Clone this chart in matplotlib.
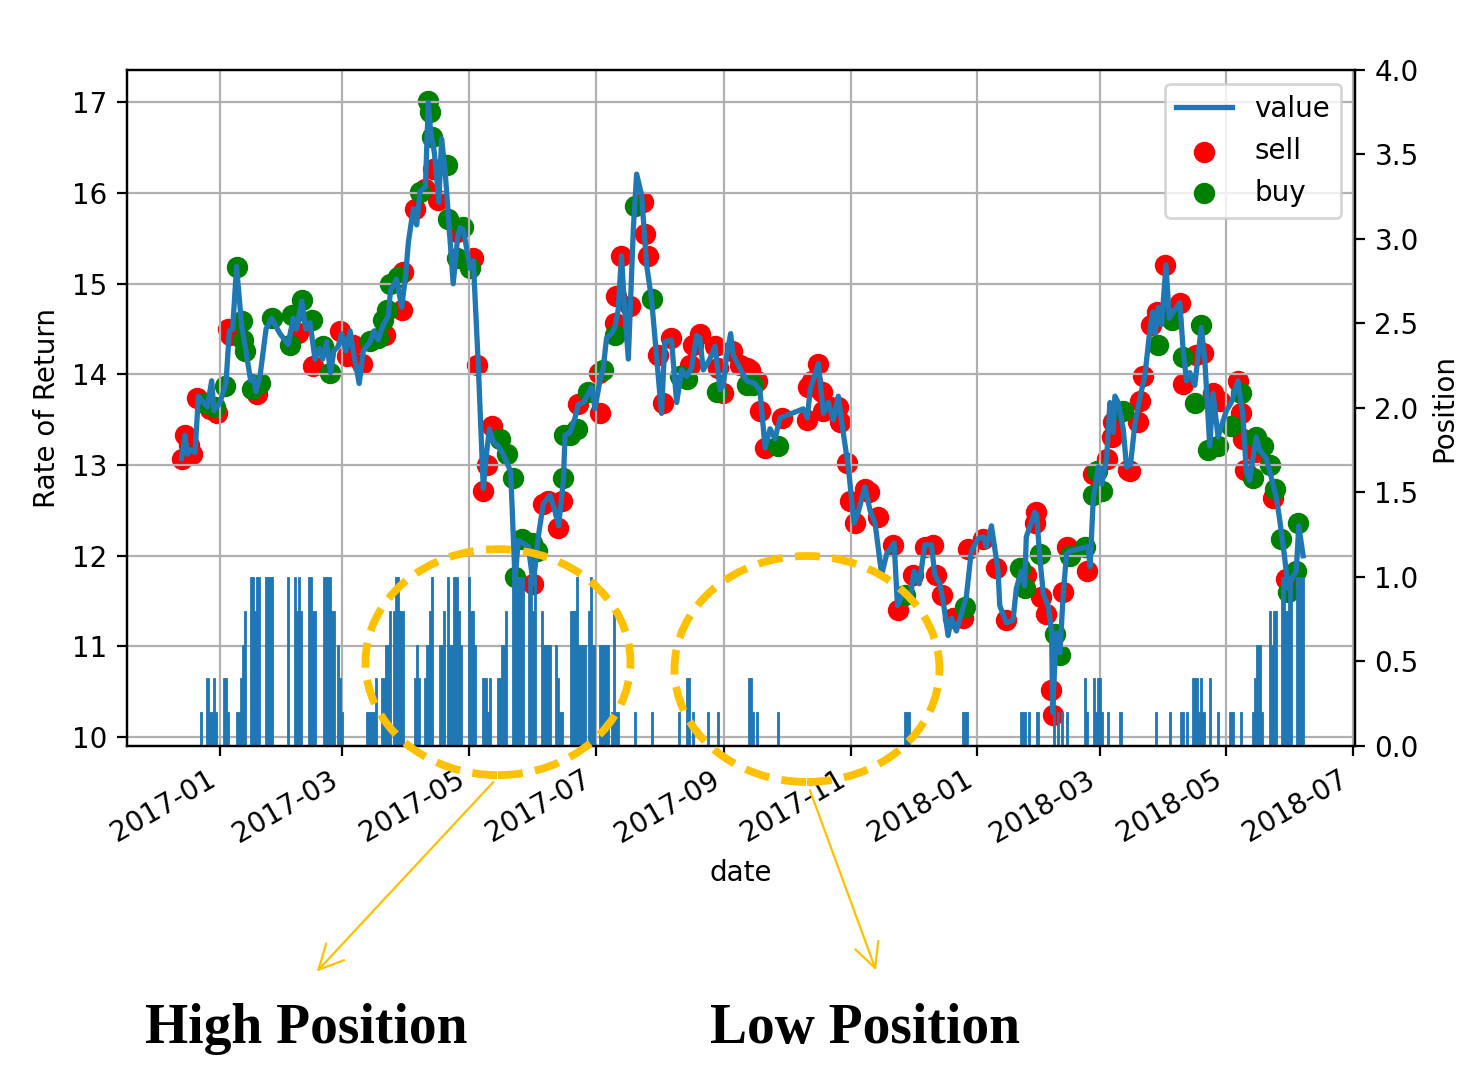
import numpy as np
import pandas as pd
import matplotlib
matplotlib.use("Agg")
from matplotlib import pyplot as plt
import matplotlib.dates as mdates
from matplotlib.patches import Ellipse, FancyArrowPatch

base = pd.Timestamp("2017-01-01")

# day offsets from 2017-01-01 and value of the curve
value_day = [-18.5, -16.9, -15.7, -14.1, -12.0, -10.4, -8.0, -6.1, -4.0, -2.9, 0, 2.9, 4.5, 6.1, 8.0,
             10.4, 12.5, 14.8, 16.1, 17.3, 19.3, 22.2, 24.9, 28.9, 32.9, 35.3, 36.9, 39.4, 41.4, 43.4,
             45.8, 47.9, 49.5, 51.4, 53.3, 54.9, 57.0, 58.6, 60.7, 62.7, 64.6, 67.1, 69.1, 72.3, 74.2,
             76.3, 78.7, 81.1, 82.2, 85.1, 87.6, 89.6, 90.8, 93.2, 94.8, 96.4, 99.0, 100.4, 101.5, 103.3,
             105.5, 106.8, 108.5, 112.4, 114.5, 115.7, 117.3, 120.5, 122.1, 124.5, 126.9, 128.2, 129.8,
             131.7, 134.1, 136.5, 140.1, 142.2, 143.8, 148.6, 151.0, 153.4, 155.8, 157.4, 159.0, 161.1,
             163.2, 165.5, 166.3, 168.7, 171.1, 172.7, 175.1, 177.5, 179.1, 180.7, 183.1, 184.7, 186.3,
             188.7, 190.3, 191.9, 193.5, 195.1, 196.8, 199.2, 200.8, 203.2, 205.6, 208.0, 212.8, 214.4,
             217.6, 220.1, 222.5, 224.9, 227.3, 229.7, 231.3, 232.9, 236.1, 238.6, 241.0, 242.6, 244.2,
             246.1, 247.4, 250.6, 253.8, 257.8, 260.2, 262.7, 265.1, 267.5, 269.9, 275.5, 281.1, 283.1,
             284.4, 288.4, 290.8, 293.2, 295.6, 298.0, 300.1, 302.8, 305.6, 307.6, 310.8, 313.3, 315.7,
             318.9, 321.3, 324.9, 326.5, 329.7, 332.6, 334.5, 337.0, 339.7, 342.9, 344.5, 346.9, 348.5,
             350.9, 352.5, 354.9, 359.7, 362.1, 365.3, 367.8, 369.4, 371.8, 375.0, 375.8, 379.0, 382.2,
             383.8, 386.2, 387.8, 388.6, 391.0, 392.6, 393.6, 395.2, 396.8, 399.2, 400.8, 401.3, 402.4,
             403.2, 404.8, 406.4, 408.0, 409.6, 418.4, 419.3, 420.9, 423.3, 424.9, 427.3, 428.9, 430.5,
             431.3, 432.9, 435.3, 436.9, 438.8, 440.9, 443.3, 445.7, 448.2, 449.5, 450.6, 452.2, 453.8,
             455.9, 457.5, 459.4, 462.6, 464.2, 465.8, 467.4, 469.8, 472.9, 474.6, 477.0, 478.6, 481.0,
             485.0, 487.4, 490.6, 493.0, 494.6, 496.2, 499.4, 501.0, 504.3, 507.5, 509.1, 510.7, 513.1,
             514.7, 516.3, 518.7, 519.9, 522.0]
value = [13.07, 13.33, 13.12, 13.17, 13.14, 13.76, 13.69, 13.64, 13.93, 13.60, 13.69, 13.90, 14.48, 14.50, 15.19,
         14.55, 14.26, 13.93, 13.98, 13.81, 13.98, 14.50, 14.62, 14.45, 14.33, 14.62, 14.50, 14.81, 14.50, 14.57,
         14.17, 14.29, 14.17, 14.36, 14.02, 14.26, 14.31, 14.45, 14.26, 14.48, 14.21, 13.90, 14.26, 14.36, 14.48,
         14.38, 14.55, 14.64, 14.93, 15.05, 14.74, 15.12, 15.46, 15.83, 15.65, 16.02, 16.07, 17.00, 16.69, 16.45,
         15.90, 16.60, 16.25, 15.00, 15.50, 15.62, 15.60, 15.17, 15.25, 14.10, 12.74, 13.07, 13.40,
         13.26, 13.21, 13.12, 12.93, 11.74, 12.17, 12.10, 11.69, 12.21, 12.57, 12.62, 12.67, 12.52,
         12.33, 12.83, 13.33, 13.36, 13.52, 13.67, 13.69, 13.79, 13.86, 13.62, 13.93, 14.07, 14.40,
         14.45, 14.52, 14.71, 15.31, 14.69, 14.17, 15.60, 16.21, 15.98, 15.21, 14.83, 13.57, 14.36,
         14.38, 13.69, 14.05, 13.98, 14.07, 14.43, 14.40, 14.05, 14.17, 14.31, 13.83, 13.88, 14.21,
         14.45, 14.21, 14.07, 13.93, 13.90, 13.83, 13.19, 13.40, 13.29, 13.52, 13.57, 13.62, 13.52,
         13.83, 14.12, 13.57, 13.69, 13.50, 13.76, 13.40, 12.98, 12.36, 12.48, 12.76, 12.50, 12.36,
         11.79, 12.02, 12.14, 11.45, 11.60, 11.52, 11.83, 11.69, 12.12, 12.12, 11.79, 11.69, 11.50,
         11.12, 11.31, 11.17, 11.55, 12.05, 12.19, 12.21, 12.10, 12.33, 11.83, 11.45, 11.26, 11.29,
         11.64, 11.83, 11.67, 12.21, 12.36, 12.48, 12.45, 11.95, 11.58, 11.44, 11.15, 10.27, 10.85,
         11.15, 10.93, 11.58, 12.02, 12.05, 12.10, 11.88, 12.64, 12.98, 12.79, 13.07, 13.69, 13.36,
         13.76, 13.69, 13.40, 12.98, 13.00, 13.45, 13.74, 13.98, 14.50, 14.69, 14.45, 14.74, 14.55,
         15.21, 14.62, 14.69, 14.79, 14.26, 13.93, 14.02, 13.88, 14.52, 14.17, 13.21, 13.79, 13.31,
         13.60, 13.69, 13.93, 13.55, 12.93, 12.83, 13.31, 13.17, 13.07, 12.79, 12.64, 12.40, 11.98,
         11.64, 11.74, 11.83, 12.33, 12.00]

sell_day = [-18.5, -17.0, -15.0, -13.5, -11.2, -4.8, -1.6, 4.0, 4.8, 17.7, 37.7, 45.0, 57.8, 61.0, 64.2,
            68.3, 79.5, 87.6, 88.4, 94.0, 98.8, 102.8, 105.2, 114.1, 122.1, 123.7, 126.9, 128.5, 131.0,
            151.0, 155.8, 158.2, 163.0, 164.6, 172.7, 183.1, 182.5, 190.3, 191.1, 193.5, 197.6, 204.0,
            204.8, 206.4, 211.2, 213.6, 217.6, 226.5, 228.1, 231.3, 238.6, 240.2, 242.6, 246.6, 250.6,
            253.8, 255.4, 258.6, 260.2, 262.7, 270.7, 282.7, 283.6, 285.2, 288.4, 290.0, 290.8, 293.9,
            297.9, 298.8, 302.0, 303.6, 306.1, 310.8, 313.0, 317.3, 324.5, 326.9, 334.1, 339.7, 343.7,
            345.3, 347.8, 353.3, 358.1, 360.5, 367.8, 374.2, 379.0, 388.6, 393.4, 392.6, 395.8, 398.2,
            400.5, 401.3, 406.4, 408.0, 417.7, 420.9, 427.3, 429.7, 430.2, 437.7, 438.6, 442.5, 443.3,
            444.9, 448.9, 451.4, 455.4, 462.6, 464.2, 470.6, 473.8, 478.6, 481.8, 490.6, 492.2, 493.0,
            493.8, 499.4, 507.5, 513.9]
sell_value = [13.07, 13.33, 13.22, 13.12, 13.74, 13.62, 13.58, 14.50, 14.43, 13.78, 14.46, 14.09, 14.48, 14.20, 14.33,
              14.11, 14.44, 14.71, 15.13, 15.83, 16.05, 16.27, 15.92, 15.57, 15.28, 14.10, 12.71, 13.00, 13.43,
              11.69, 12.57, 12.60, 12.31, 12.60, 13.67, 13.57, 14.02, 14.57, 14.86, 15.31, 14.76, 15.90,
              15.55, 15.31, 14.21, 13.69, 14.40, 14.10, 14.33, 14.45, 14.31, 14.07, 13.79, 14.26, 14.10,
              14.07, 14.05, 13.93, 13.60, 13.19, 13.52, 13.50, 13.86, 13.93, 14.12, 13.81, 13.60, 13.64,
              13.64, 13.48, 13.02, 12.60, 12.36, 12.74, 12.70, 12.43, 12.12, 11.40, 11.79, 12.10, 12.12,
              11.79, 11.57, 11.31, 11.31, 12.07, 12.19, 11.86, 11.29, 11.79, 12.48, 12.36, 11.55, 11.36,
              10.52, 10.24, 11.60, 12.10, 11.83, 12.90, 13.07, 13.31, 13.48, 12.95, 12.93, 13.48, 13.71,
              13.98, 14.55, 14.69, 15.21, 14.79, 13.90, 14.21, 14.24, 13.79, 13.71, 13.93, 13.57, 13.29,
              12.95, 13.14, 12.64, 11.74]

buy_day = [-7.2, -2.4, 2.4, 8.0, 10.4, 11.2, 12.0, 15.3, 19.3, 24.9, 33.7, 34.5, 39.4, 44.2, 49.8,
           53.0, 72.3, 76.3, 78.7, 80.3, 81.9, 85.9, 96.4, 100.4, 101.2, 102.0, 109.2, 110.0, 114.1,
           117.3, 120.5, 135.0, 138.2, 141.4, 142.2, 145.4, 150.2, 152.6, 165.5, 166.0, 168.7, 171.9,
           177.5, 184.7, 190.3, 200.0, 208.0, 221.6, 224.9, 239.4, 253.8, 257.0, 269.1, 330.1, 358.9,
           385.4, 387.8, 395.0, 402.4, 404.8, 409.6, 416.8, 420.9, 422.5, 424.9, 435.3, 452.2, 458.6,
           464.2, 469.8, 473.0, 476.2, 481.0, 487.4, 492.2, 497.8, 499.4, 502.6, 505.9, 508.3, 511.5,
           514.7, 518.7, 519.5]
buy_value = [13.69, 13.64, 13.87, 15.19, 14.59, 14.38, 14.26, 13.84, 13.91, 14.62, 14.33, 14.66, 14.82, 14.60, 14.31,
             14.02, 14.37, 14.40, 14.60, 14.71, 15.00, 15.08, 16.01, 17.02, 16.89, 16.62, 16.31, 15.72, 15.28,
             15.63, 15.17, 13.29, 13.12, 12.86, 11.76, 12.19, 12.14, 12.05, 12.86, 13.33, 13.33, 13.40,
             13.81, 14.05, 14.43, 15.86, 14.83, 13.98, 13.95, 13.81, 13.88, 13.88, 13.21, 11.57, 11.43,
             11.86, 11.64, 12.02, 11.14, 10.90, 12.00, 12.10, 12.67, 12.93, 12.71, 13.60, 14.33, 14.60,
             14.19, 13.69, 14.55, 13.17, 13.21, 13.43, 13.79, 12.86, 13.31, 13.21, 13.00, 12.74, 12.19,
             11.60, 11.83, 12.36]

pos_day = [-9, -6, -5, -4, -3, -2, 2, 3, 4, 8, 9, 10, 11, 12, 15, 16, 17, 18, 19, 22, 23, 24, 25, 33,
           36, 37, 38, 39, 43, 44, 45, 46, 50, 51, 52, 53, 54, 55, 57, 58, 59,
           71, 72, 73, 74, 75, 78, 79, 80, 81, 82, 84, 85, 86, 87, 88, 94, 95, 96, 99, 100, 101, 102,
           106, 107, 108, 110, 111, 112, 113, 114, 115, 116, 120, 121, 122, 123, 127, 128, 129, 130,
           134, 135, 136, 137, 138, 141, 142, 143, 144, 145, 146, 149, 150, 151, 152, 155, 156, 157,
           158, 159, 162, 163, 164, 165, 169, 170, 171, 172, 173, 174, 175, 176, 178, 179, 180, 183,
           184, 185, 186, 187, 189, 190, 191, 192, 200, 208,
           221, 225, 226, 228, 235, 240, 255, 256, 257, 259, 269, 330, 331, 332, 358, 359, 360, 386,
           387, 388, 390, 394,
           402, 404, 406, 408, 417, 418, 421, 422, 423, 424, 425, 428, 434, 451, 458, 463, 464, 466,
           469, 470, 471, 472, 473, 474, 477, 481, 487, 488, 492, 498, 499, 500, 501, 502, 506, 507,
           508, 509, 512, 513, 514, 515, 516, 519, 520, 521, 522]
pos = [0.2, 0.4, 0.2, 0.2, 0.4, 0.2, 0.4, 0.4, 0.2, 0.2, 0.2, 0.4, 0.6, 0.8, 1.0, 1.0, 0.8, 1.0, 1.0, 1.0, 1.0, 1.0, 1.0, 1.0,
       1.0, 0.8, 1.0, 0.8, 1.0, 1.0, 0.8, 0.8, 1.0, 1.0, 1.0, 1.0, 0.8, 0.8, 0.6, 0.4, 0.2,
       0.2, 0.2, 0.2, 0.2, 0.4, 0.4, 0.4, 0.6, 0.6, 0.8, 0.8, 1.0, 1.0, 0.8, 0.8, 0.4, 0.6, 0.4, 0.4, 0.6, 0.8, 1.0,
       0.6, 0.6, 0.8, 1.0, 0.6, 0.6, 1.0, 1.0, 0.8, 0.6, 1.0, 0.8, 0.8, 0.6, 0.4, 0.4, 0.2, 0.4,
       0.4, 0.4, 0.6, 0.6, 0.8, 1.0, 1.0, 1.0, 1.0, 1.0, 1.0, 1.0, 1.0, 0.8, 1.0, 0.8, 0.6, 0.6,
       0.6, 0.6, 0.6, 0.4, 0.2, 0.2, 0.8, 0.8, 0.8, 1.0, 0.6, 0.6, 0.6, 0.6, 0.8, 1.0, 0.6, 0.6,
       0.6, 0.6, 0.6, 0.6, 0.2, 0.8, 0.2, 0.2, 0.2, 0.2,
       0.2, 0.4, 0.4, 0.2, 0.2, 0.2, 0.4, 0.4, 0.2, 0.2, 0.2, 0.2, 0.2, 0.2, 0.2, 0.2, 0.2, 0.2,
       0.2, 0.2, 0.2, 0.2,
       0.2, 0.2, 0.2, 0.2, 0.4, 0.2, 0.4, 0.2, 0.4, 0.4, 0.2, 0.2, 0.2, 0.2, 0.2, 0.2, 0.2, 0.2,
       0.4, 0.4, 0.4, 0.2, 0.4, 0.2, 0.4, 0.2, 0.2, 0.2, 0.2, 0.2, 0.4, 0.6, 0.6, 0.2, 0.8, 0.6,
       0.8, 0.8, 1.0, 1.0, 0.8, 1.0, 1.0, 1.0, 1.0, 1.0, 1.0]


def to_dates(days):
    return base + pd.to_timedelta(np.array(days, dtype=float), unit="D")


fig = plt.figure(figsize=(7.41, 5.34), dpi=200)
ax1 = fig.add_axes([0.0857, 0.3015, 0.8286, 0.633])

sc_sell = ax1.scatter(to_dates(sell_day), sell_value, s=45, color="red", label="sell")
sc_buy = ax1.scatter(to_dates(buy_day), buy_value, s=45, color="green", label="buy")
ln, = ax1.plot(to_dates(value_day), value, color="#1f77b4", lw=1.9, label="value")
ax1.grid(True)
ax1.set_ylabel("Rate of Return")
ax1.set_xlabel("date")
ax1.legend(handles=[ln, sc_sell, sc_buy], loc="upper right")

ax2 = ax1.twinx()
ax2.bar(to_dates(pos_day), pos, width=1.0, color="#1f77b4", edgecolor="#1f77b4", linewidth=0.3)
ax2.set_ylim(0, 4.0)
ax2.set_ylabel("Position")

ax1.set_xlim(to_dates([-44.8])[0], to_dates([547])[0])
ax1.xaxis.set_major_locator(mdates.MonthLocator(bymonth=[1, 3, 5, 7, 9, 11]))
ax1.xaxis.set_major_formatter(mdates.DateFormatter("%Y-%m"))
plt.setp(ax1.get_xticklabels(), rotation=30, ha="right")

# annotations drawn on top of the figure
gold = "#FFC000"
for cx, cy in [(0.336, 0.380), (0.5445, 0.3736)]:
    fig.add_artist(Ellipse((cx, cy), 0.1788, 0.2116, transform=fig.transFigure, fill=False,
                           edgecolor=gold, lw=2.8, linestyle=(0, (3.2, 1.6)), zorder=5))
for a, b in [((0.3354, 0.2715), (0.2112, 0.0865)), ((0.5452, 0.265), (0.5924, 0.0865))]:
    fig.add_artist(FancyArrowPatch(a, b, transform=fig.transFigure, arrowstyle="->",
                                   mutation_scale=22, color=gold, lw=0.8, zorder=5))
fig.text(0.0978, 0.0234, "High Position", family="Liberation Serif", weight="bold", fontsize=20)
fig.text(0.479, 0.0234, "Low Position", family="Liberation Serif", weight="bold", fontsize=20)

fig.savefig("out.png", dpi=200)
